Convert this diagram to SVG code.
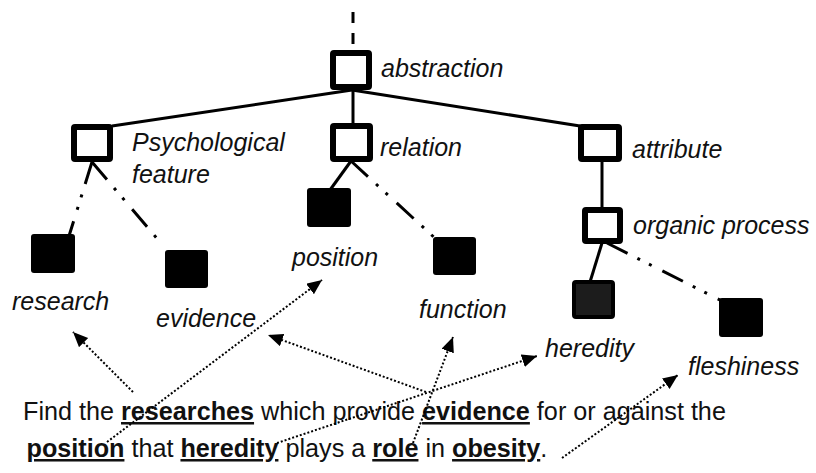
<svg xmlns="http://www.w3.org/2000/svg" width="816" height="473" viewBox="0 0 816 473">
  <style>
    .lbl { font-family: "Liberation Sans", Arial, sans-serif; font-style: italic; font-size: 25px; fill: #111; }
    .sent { font-family: "Liberation Sans", Arial, sans-serif; font-size: 25.2px; fill: #111; }
    .kw { font-weight: bold; text-decoration: underline; }
    .open { fill: #fff; stroke: #000; stroke-width: 6; }
    .solid { fill: #000; }
    .edge { stroke: #000; stroke-width: 3; fill: none; }
    .ddot { stroke: #000; stroke-width: 3; fill: none; stroke-dasharray: 23 11 3 10 3 12; }
    .top { stroke: #000; stroke-width: 3; fill: none; stroke-dasharray: 11 10; }
    .ref { stroke: #000; stroke-width: 2; fill: none; stroke-dasharray: 2 2; marker-end: url(#head); }
  </style>
  <defs>
    <marker id="head" markerUnits="userSpaceOnUse" markerWidth="16" markerHeight="14" refX="15" refY="6.5" orient="auto">
      <path d="M0,0 L15,6.5 L0,13 Z" fill="#000"/>
    </marker>
  </defs>
  <rect width="816" height="473" fill="#fff"/>

  <!-- hierarchy edges -->
  <g id="edges">
    <line class="top" x1="353" y1="12" x2="353" y2="50"/>
    <line class="edge" x1="352" y1="90" x2="112" y2="126"/>
    <line class="edge" x1="353" y1="90" x2="353" y2="124"/>
    <line class="edge" x1="352" y1="90" x2="580" y2="126"/>
    <line class="ddot" x1="92" y1="162" x2="69" y2="236"/>
    <line class="ddot" x1="92" y1="162" x2="160" y2="242"/>
    <line class="edge" x1="351" y1="161" x2="330" y2="190"/>
    <line class="ddot" x1="351" y1="161" x2="437" y2="240"/>
    <line class="edge" x1="602" y1="161" x2="602" y2="208"/>
    <line class="edge" x1="602" y1="243" x2="590" y2="282"/>
    <line class="ddot" x1="607" y1="243" x2="722" y2="301"/>
  </g>

  <!-- concept nodes -->
  <g id="abstraction">
    <rect class="open" x="333" y="53" width="36" height="34" rx="1"/>
    <text class="lbl" x="381" y="77">abstraction</text>
  </g>
  <g id="psychological-feature">
    <rect class="open" x="74" y="127" width="36" height="32" rx="1"/>
    <text class="lbl" x="132" y="151">Psychological</text>
    <text class="lbl" x="132" y="183">feature</text>
  </g>
  <g id="relation">
    <rect class="open" x="333" y="126" width="37" height="33" rx="1"/>
    <text class="lbl" x="380" y="156">relation</text>
  </g>
  <g id="attribute">
    <rect class="open" x="581" y="127" width="38" height="32" rx="1"/>
    <text class="lbl" x="632" y="158">attribute</text>
  </g>
  <g id="organic-process">
    <rect class="open" x="585" y="210" width="35" height="31" rx="1"/>
    <text class="lbl" x="633" y="234">organic process</text>
  </g>
  <g id="research">
    <rect class="solid" x="31" y="234" width="44" height="39" rx="3"/>
    <text class="lbl" x="12" y="310">research</text>
  </g>
  <g id="evidence">
    <rect class="solid" x="165" y="250" width="43" height="38" rx="3"/>
    <text class="lbl" x="156" y="327">evidence</text>
  </g>
  <g id="position">
    <rect class="solid" x="307" y="188" width="44" height="39" rx="3"/>
    <text class="lbl" x="292" y="266">position</text>
  </g>
  <g id="function">
    <rect class="solid" x="433" y="237" width="43" height="38" rx="3"/>
    <text class="lbl" x="419" y="318">function</text>
  </g>
  <g id="heredity">
    <rect x="574" y="282" width="39" height="35" rx="2" fill="#1c1c1c" stroke="#000" stroke-width="4"/>
    <text class="lbl" x="545" y="357">heredity</text>
  </g>
  <g id="fleshiness">
    <rect class="solid" x="719" y="298" width="44" height="39" rx="3"/>
    <text class="lbl" x="688" y="375">fleshiness</text>
  </g>

  <!-- query sentence -->
  <g id="query">
    <text class="sent" x="23" y="420">Find the <tspan class="kw">researches</tspan> which provide <tspan class="kw">evidence</tspan> for or against the</text>
    <text class="sent" x="26.5" y="457"><tspan class="kw">position</tspan> that <tspan class="kw">heredity</tspan> plays a <tspan class="kw">role</tspan> in <tspan class="kw">obesity</tspan>.</text>
  </g>

  <!-- word-to-concept mappings -->
  <g id="mappings">
    <line class="ref" x1="133" y1="392" x2="73" y2="332"/>
    <line class="ref" x1="107" y1="442" x2="322" y2="280"/>
    <line class="ref" x1="426" y1="392" x2="268" y2="335"/>
    <line class="ref" x1="277" y1="443" x2="537" y2="356"/>
    <line class="ref" x1="413" y1="443" x2="453" y2="337"/>
    <line class="ref" x1="562" y1="458" x2="678" y2="375"/>
  </g>
</svg>
